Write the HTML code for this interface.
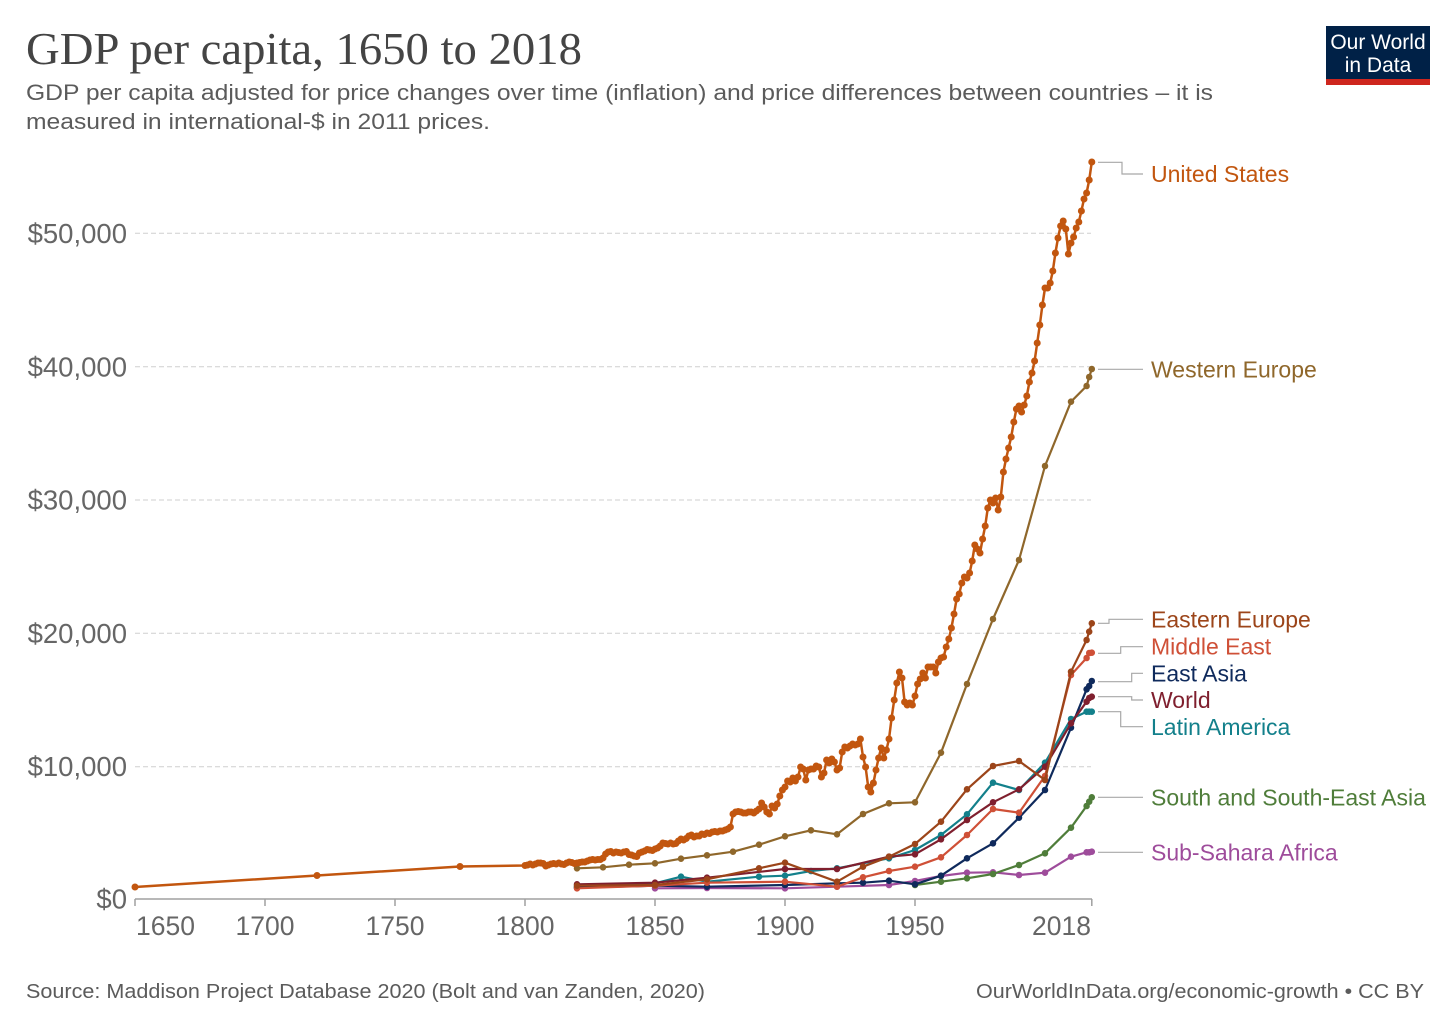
<!DOCTYPE html>
<html>
<head>
<meta charset="utf-8">
<style>
  html,body{margin:0;padding:0;background:#fff;}
  body{width:1456px;height:1028px;overflow:hidden;}
  svg{display:block;}
  text{font-family:"Liberation Sans", Arial, sans-serif;}
</style>
</head>
<body>
<svg width="1456" height="1028" viewBox="0 0 1456 1028" xmlns="http://www.w3.org/2000/svg">
  <defs>
    <marker id="mUS" markerUnits="userSpaceOnUse" markerWidth="4" markerHeight="8" viewBox="-2 -4 4 8" refX="0" refY="0" overflow="visible"><ellipse rx="1.35" ry="3.5" fill="#c2560f"/></marker>
    <marker id="mWE" markerUnits="userSpaceOnUse" markerWidth="4" markerHeight="8" viewBox="-2 -4 4 8" refX="0" refY="0" overflow="visible"><ellipse rx="1.25" ry="3.3" fill="#8f672b"/></marker>
    <marker id="mEE" markerUnits="userSpaceOnUse" markerWidth="4" markerHeight="8" viewBox="-2 -4 4 8" refX="0" refY="0" overflow="visible"><ellipse rx="1.25" ry="3.3" fill="#9c451a"/></marker>
    <marker id="mME" markerUnits="userSpaceOnUse" markerWidth="4" markerHeight="8" viewBox="-2 -4 4 8" refX="0" refY="0" overflow="visible"><ellipse rx="1.25" ry="3.3" fill="#cf5037"/></marker>
    <marker id="mEA" markerUnits="userSpaceOnUse" markerWidth="4" markerHeight="8" viewBox="-2 -4 4 8" refX="0" refY="0" overflow="visible"><ellipse rx="1.25" ry="3.3" fill="#0f2a5c"/></marker>
    <marker id="mW" markerUnits="userSpaceOnUse" markerWidth="4" markerHeight="8" viewBox="-2 -4 4 8" refX="0" refY="0" overflow="visible"><ellipse rx="1.25" ry="3.3" fill="#7f1f2e"/></marker>
    <marker id="mLA" markerUnits="userSpaceOnUse" markerWidth="4" markerHeight="8" viewBox="-2 -4 4 8" refX="0" refY="0" overflow="visible"><ellipse rx="1.25" ry="3.3" fill="#13808b"/></marker>
    <marker id="mSA" markerUnits="userSpaceOnUse" markerWidth="4" markerHeight="8" viewBox="-2 -4 4 8" refX="0" refY="0" overflow="visible"><ellipse rx="1.25" ry="3.3" fill="#4f7d3a"/></marker>
    <marker id="mAF" markerUnits="userSpaceOnUse" markerWidth="4" markerHeight="8" viewBox="-2 -4 4 8" refX="0" refY="0" overflow="visible"><ellipse rx="1.25" ry="3.3" fill="#9e4c9b"/></marker>
  </defs>

  <rect x="0" y="0" width="1456" height="1028" fill="#fff"/>

  <!-- Title -->
  <text x="26" y="64" font-size="45" fill="#444" textLength="556" lengthAdjust="spacingAndGlyphs" style="font-family:'Liberation Serif',serif">GDP per capita, 1650 to 2018</text>
  <text x="26" y="100" font-size="22" fill="#5b5b5b" textLength="1187" lengthAdjust="spacingAndGlyphs">GDP per capita adjusted for price changes over time (inflation) and price differences between countries – it is</text>
  <text x="26" y="129" font-size="22" fill="#5b5b5b" textLength="464" lengthAdjust="spacingAndGlyphs">measured in international-$ in 2011 prices.</text>

  <!-- Logo -->
  <rect x="1326" y="26" width="104" height="59" fill="#002147"/>
  <rect x="1326" y="79" width="104" height="6" fill="#ce261e"/>
  <text x="1378" y="49" font-size="21" fill="#fff" text-anchor="middle">Our World</text>
  <text x="1378" y="72" font-size="21" fill="#fff" text-anchor="middle">in Data</text>

  <!-- Gridlines -->
  <g stroke="#cfcfcf" stroke-width="1" stroke-dasharray="5,3">
    <line x1="135" y1="233.3" x2="1091" y2="233.3"/>
    <line x1="135" y1="366.7" x2="1091" y2="366.7"/>
    <line x1="135" y1="500" x2="1091" y2="500"/>
    <line x1="135" y1="633.3" x2="1091" y2="633.3"/>
    <line x1="135" y1="766.7" x2="1091" y2="766.7"/>
  </g>

  <!-- Y labels -->
  <g font-size="27.5" fill="#666" text-anchor="end">
    <text x="127" y="243">$50,000</text>
    <text x="127" y="376.5">$40,000</text>
    <text x="127" y="509.5">$30,000</text>
    <text x="127" y="643">$20,000</text>
    <text x="127" y="776">$10,000</text>
    <text x="127" y="908.5">$0</text>
  </g>

  <!-- X axis -->
  <line x1="135" y1="899" x2="1092" y2="899" stroke="#a0a0a0" stroke-width="1.5"/>
  <g stroke="#a0a0a0" stroke-width="1.5">
    <line x1="135" y1="899" x2="135" y2="906"/>
    <line x1="265" y1="899" x2="265" y2="906"/>
    <line x1="395" y1="899" x2="395" y2="906"/>
    <line x1="525" y1="899" x2="525" y2="906"/>
    <line x1="655" y1="899" x2="655" y2="906"/>
    <line x1="785" y1="899" x2="785" y2="906"/>
    <line x1="915" y1="899" x2="915" y2="906"/>
    <line x1="1091.8" y1="899" x2="1091.8" y2="906"/>
  </g>
  <g font-size="26.5" fill="#666" text-anchor="middle">
    <text x="136" y="935" text-anchor="start">1650</text>
    <text x="265" y="935">1700</text>
    <text x="395" y="935">1750</text>
    <text x="525" y="935">1800</text>
    <text x="655" y="935">1850</text>
    <text x="785" y="935">1900</text>
    <text x="915" y="935">1950</text>
    <text x="1091" y="935" text-anchor="end">2018</text>
  </g>

  <!-- Series: coordinates are (year, pixel-y); transform maps year -> pixel x -->
  <g transform="translate(-4155,0) scale(2.6,1)" fill="none" stroke-width="2.2" stroke-linejoin="round">
    <polyline vector-effect="non-scaling-stroke" stroke="#9e4c9b" marker-start="url(#mAF)" marker-mid="url(#mAF)" marker-end="url(#mAF)"
      points="1850,888.3 1870,888 1900,888.3 1920,886.7 1940,885 1950,881 1960,876 1970,872.7 1980,872.3 1990,875 2000,872.7 2010,856.7 2016,852.3 2017,852.3 2018,851.7"/>
    <polyline vector-effect="non-scaling-stroke" stroke="#4f7d3a" marker-start="url(#mSA)" marker-mid="url(#mSA)" marker-end="url(#mSA)"
      points="1950,885 1960,881.7 1970,878.3 1980,874 1990,865 2000,853.3 2010,827.7 2016,806 2017,801.7 2018,797.3"/>
    <polyline vector-effect="non-scaling-stroke" stroke="#13808b" marker-start="url(#mLA)" marker-mid="url(#mLA)" marker-end="url(#mLA)"
      points="1820,886.7 1850,883.3 1860,876.7 1870,881.7 1890,876.7 1900,875.7 1910,871 1920,868.3 1940,858.3 1950,850 1960,835 1970,814.3 1980,782.7 1990,790 2000,762.7 2010,719 2016,711.7 2017,711.7 2018,711.7"/>
    <polyline vector-effect="non-scaling-stroke" stroke="#0f2a5c" marker-start="url(#mEA)" marker-mid="url(#mEA)" marker-end="url(#mEA)"
      points="1820,887.7 1850,885.7 1870,886.7 1900,885 1920,883.3 1930,882.7 1940,880.7 1950,884.3 1960,875.7 1970,858.3 1980,843.3 1990,817.7 2000,790 2010,727.7 2016,689.3 2017,686 2018,681"/>
    <polyline vector-effect="non-scaling-stroke" stroke="#cf5037" marker-start="url(#mME)" marker-mid="url(#mME)" marker-end="url(#mME)"
      points="1820,888.3 1850,885.7 1870,882.7 1900,881.7 1920,886.7 1930,877.3 1940,871 1950,866.7 1960,857.3 1970,835 1980,809 1990,812.7 2000,776 2010,675 2016,658 2017,653 2018,652.7"/>
    <polyline vector-effect="non-scaling-stroke" stroke="#7f1f2e" marker-start="url(#mW)" marker-mid="url(#mW)" marker-end="url(#mW)"
      points="1820,884.3 1850,882.7 1870,877.7 1900,869 1920,869 1940,856.7 1950,854.3 1960,839.3 1970,820 1980,802.3 1990,789.3 2000,766.7 2010,723.3 2016,701.7 2017,698 2018,696.7"/>
    <polyline vector-effect="non-scaling-stroke" stroke="#9c451a" marker-start="url(#mEE)" marker-mid="url(#mEE)" marker-end="url(#mEE)"
      points="1820,885.7 1850,885 1870,879.3 1890,868.3 1900,862.7 1920,881.7 1930,866.7 1940,856.7 1950,844 1960,821.7 1970,789.3 1980,766 1990,761 2000,780 2010,671.7 2016,640 2017,631.7 2018,623.3"/>
    <polyline vector-effect="non-scaling-stroke" stroke="#8f672b" marker-start="url(#mWE)" marker-mid="url(#mWE)" marker-end="url(#mWE)"
      points="1820,868.3 1830,867.3 1840,864.7 1850,863.3 1860,858.7 1870,855.3 1880,851.7 1890,844.7 1900,836.3 1910,830.3 1920,834.3 1930,814 1940,803.3 1950,802.3 1960,752.7 1970,684 1980,619 1990,560 2000,466 2010,401.7 2016,386 2017,377 2018,369"/>
    <polyline vector-effect="non-scaling-stroke" stroke="#c2560f" stroke-width="2.5" marker-start="url(#mUS)" marker-mid="url(#mUS)" marker-end="url(#mUS)"
      points="1650,887 1720,875.5 1775,866.5 1800,865.5 1801,865 1802,864 1803,865 1804,864 1805,863 1806,863 1807,863.5 1808,866 1809,865 1810,864 1811,863.5 1812,864 1813,863 1814,864 1815,864.5 1816,863 1817,862 1818,862.5 1819,863.5 1820,863 1821,862.5 1822,862 1823,862 1824,861 1825,860 1826,859.5 1827,860 1828,859.5 1829,859.5 1830,858 1831,854 1832,852 1833,851.5 1834,853 1835,852 1836,852.5 1837,853 1838,852 1839,851.5 1840,854.5 1841,855 1842,856 1843,856.5 1844,853 1845,852 1846,851 1847,849.5 1848,850 1849,850.5 1850,849 1851,848 1852,846 1853,843 1854,843.5 1855,844 1856,843 1857,844 1858,843.5 1859,841 1860,839 1861,840 1862,838.5 1863,836 1864,835 1865,837 1866,836 1867,836 1868,834 1869,834.5 1870,833 1871,833.5 1872,832 1873,831.5 1874,832 1875,831 1876,831 1877,830 1878,829 1879,827 1880,814 1881,812 1882,811.5 1883,812 1884,813 1885,813 1886,812 1887,812 1888,813 1889,811 1890,809 1891,803 1892,807 1893,812 1894,814 1895,806 1896,808 1897,804 1898,796 1899,790 1900,787 1901,781 1902,782 1903,778 1904,781 1905,777 1906,767 1907,769 1908,780 1909,770 1910,769 1911,769 1912,766 1913,767 1914,777 1915,773 1916,760 1917,763 1918,759 1919,762 1920,770 1921,768 1922,752 1923,747 1924,748 1925,746 1926,744 1927,745 1928,744 1929,739 1930,757 1931,767 1932,787 1933,792 1934,783 1935,770 1936,758 1937,748 1938,758 1939,750 1940,739 1941,718 1942,700 1943,683 1944,672 1945,678 1946,702 1947,705 1948,703 1949,705 1950,696 1951,684 1952,679 1953,673 1954,678 1955,667 1956,667 1957,667 1958,673 1959,662 1960,658 1961,657 1962,647 1963,639 1964,628 1965,614 1966,599 1967,594 1968,583 1969,577 1970,578 1971,573 1972,561 1973,545 1974,549 1975,553 1976,539 1977,526 1978,508 1979,500 1980,503 1981,498 1982,510 1983,497 1984,472 1985,459 1986,448 1987,437 1988,422 1989,409 1990,406 1991,412 1992,405 1993,396 1994,382 1995,373 1996,361 1997,343 1998,325 1999,305 2000,288 2001,288 2002,283 2003,271 2004,253 2005,238 2006,226 2007,221 2008,229 2009,254 2010,243 2011,237 2012,228 2013,222 2014,211 2015,199 2016,193 2017,180 2018,162"/>
  </g>

  <!-- Label leader lines -->
  <g fill="none" stroke="#a8a8a8" stroke-width="1.2">
    <polyline points="1098,162.3 1122,162.3 1122,174 1143,174"/>
    <polyline points="1098,369.3 1143,369.3"/>
    <polyline points="1098,623.3 1109,623.3 1109,619.3 1143,619.3"/>
    <polyline points="1098,653.3 1120.7,653.3 1120.7,646.7 1143,646.7"/>
    <polyline points="1098,681.7 1131.7,681.7 1131.7,673.3 1143,673.3"/>
    <polyline points="1098,696.7 1131.7,696.7 1131.7,700 1143,700"/>
    <polyline points="1098,711.7 1120.7,711.7 1120.7,726.7 1143,726.7"/>
    <polyline points="1098,797.3 1143,797.3"/>
    <polyline points="1098,852.3 1143,852.3"/>
  </g>

  <!-- Labels -->
  <g font-size="23">
    <text x="1151" y="182" fill="#c2560f">United States</text>
    <text x="1151" y="377.5" fill="#8f672b">Western Europe</text>
    <text x="1151" y="627.5" fill="#9c451a">Eastern Europe</text>
    <text x="1151" y="654.5" fill="#cf5037">Middle East</text>
    <text x="1151" y="681.5" fill="#0f2a5c">East Asia</text>
    <text x="1151" y="708" fill="#7f1f2e">World</text>
    <text x="1151" y="735" fill="#13808b">Latin America</text>
    <text x="1151" y="805.5" fill="#4f7d3a">South and South-East Asia</text>
    <text x="1151" y="860.5" fill="#9e4c9b">Sub-Sahara Africa</text>
  </g>

  <!-- Footer -->
  <text x="26" y="998" font-size="20" fill="#5b5b5b" textLength="679" lengthAdjust="spacingAndGlyphs">Source: Maddison Project Database 2020 (Bolt and van Zanden, 2020)</text>
  <text x="1424" y="998" font-size="20" fill="#5b5b5b" text-anchor="end" textLength="448" lengthAdjust="spacingAndGlyphs">OurWorldInData.org/economic-growth • CC BY</text>
</svg>
</body>
</html>
